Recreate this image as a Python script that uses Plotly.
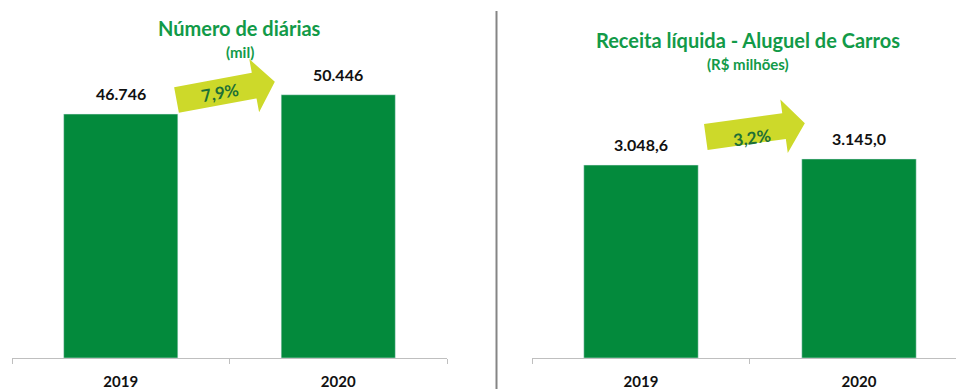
import math
import plotly.graph_objects as go

# ---- data ----
years = ["2019", "2020"]
diarias = [46.746, 50.446]          # mil
diarias_labels = ["46.746", "50.446"]
receita = [3048.6, 3145.0]          # R$ milhões
receita_labels = ["3.048,6", "3.145,0"]
growth_left = "7,9%"
growth_right = "3,2%"

W, H = 956, 389
BAR = "#038a3c"
TITLE = "#129a48"
ARROW = "#cdd92a"
ARROW_TXT = "#1d6f36"
AXIS = "#bfbfbf"
FONT = "Lato"

def px(x):
    return x / W

def py(y):
    return 1 - y / H

fig = go.Figure()
fig.add_trace(go.Bar(x=years, y=diarias, marker_color=BAR, width=0.525,
                     xaxis="x", yaxis="y", hoverinfo="skip"))
fig.add_trace(go.Bar(x=years, y=receita, marker_color=BAR, width=0.525,
                     xaxis="x2", yaxis="y2", hoverinfo="skip"))

ybot = 31 / H
common_x = dict(type="category", showline=True, linecolor=AXIS, linewidth=1,
                ticks="outside", ticklen=5, tickcolor=AXIS, tickson="boundaries",
                showgrid=False, zeroline=False, fixedrange=True,
                tickfont=dict(family=FONT, size=15, color="#111111", weight="bold"),
                ticklabelstandoff=10)
fig.update_layout(
    width=W, height=H, margin=dict(l=0, r=0, t=0, b=0),
    paper_bgcolor="white", plot_bgcolor="white", showlegend=False,
    xaxis=dict(domain=[px(12), px(447)], range=[-0.5, 1.5], anchor="y", **common_x),
    xaxis2=dict(domain=[px(532), 1], range=[-0.5, 1.445], anchor="y2", **common_x),
    yaxis=dict(domain=[ybot, 1], range=[0, 68.6], visible=False, anchor="x"),
    yaxis2=dict(domain=[ybot, 1], range=[0, 5656], visible=False, anchor="x2"),
)

ann = []
# value labels (category index positions on each x axis)
for xr, yr, vals, labs in [("x", "y", diarias, diarias_labels), ("x2", "y2", receita, receita_labels)]:
    for i, (v, t) in enumerate(zip(vals, labs)):
        ann.append(dict(x=i, y=v, xref=xr, yref=yr, text=t, showarrow=False,
                        yanchor="bottom", yshift=9,
                        font=dict(family=FONT, size=16, color="#111111", weight="bold")))

def label(x, y, text, size, color=TITLE, angle=0):
    ann.append(dict(x=px(x), y=py(y), xref="paper", yref="paper", text=text,
                    showarrow=False, xanchor="center", yanchor="middle", textangle=angle,
                    font=dict(family=FONT, size=size, color=color, weight="bold")))

label(239, 28, "Número de diárias", 20)
label(240, 52, "(mil)", 15)
label(748, 40, "Receita líquida - Aluguel de Carros", 20)
label(748, 64, "(R$ milhões)", 15)

def arrow(x0, y0, ang_deg, L=100, L1=79, hs=13, hh=27):
    a = math.radians(ang_deg)
    d = (math.cos(a), -math.sin(a))
    n = (-math.sin(a), -math.cos(a))
    local = [(0, -hs), (L1, -hs), (L1, -hh), (L, 0), (L1, hh), (L1, hs), (0, hs)]
    pts = []
    for u, v in local:
        X = x0 + d[0] * u - n[0] * v
        Y = y0 + d[1] * u - n[1] * v
        pts.append((px(X), py(Y)))
    path = "M " + " L ".join(f"{a_:.5f},{b_:.5f}" for a_, b_ in pts) + " Z"
    return dict(type="path", xref="paper", yref="paper", path=path,
                fillcolor=ARROW, line=dict(width=0), layer="above")

shapes = [
    arrow(176.5, 100, 10.5),
    arrow(705.8, 137, 7.9),
    dict(type="line", xref="paper", yref="paper", x0=px(496.5), x1=px(496.5),
         y0=py(11), y1=0, line=dict(color="#858585", width=2)),
]

label(220, 92, growth_left, 17, ARROW_TXT, -10)
label(752, 137, growth_right, 17, ARROW_TXT, -8)

fig.update_layout(annotations=ann, shapes=shapes)
fig.write_html("out.html")
